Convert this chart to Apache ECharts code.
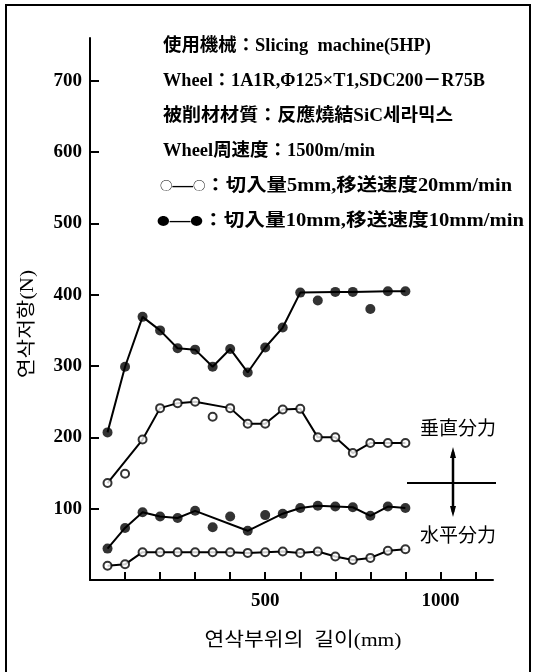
<!DOCTYPE html>
<html><head><meta charset="utf-8">
<script src="https://cdn.jsdelivr.net/npm/echarts@6/dist/echarts.min.js"></script>
<style>html,body{margin:0;padding:0;background:#fff}#c{width:539px;height:672px}</style>
</head><body><div id="c"></div>
<script>
// ---- data ----
const lengths = [50,100,150,200,250,300,350,400,450,500,550,600,650,700,750,800,850,900];
const vertFilled  = [207,299,369,350,325,323,299,324,291,326,354,403,392,404,404,380,405,405];
const vertOpen    = [136,149,197,241,248,250,229,241,219,219,239,240,200,200,178,192,192,192];
const horizFilled = [44,73,95,89,87,97,74,89,69,91,93,101,104,103,102,90,103,101];
const horizOpen   = [20,22,39,39,39,39,39,39,38,39,40,38,40,33,28,31,41,43];
// points that the drawn trend line skips (indices into lengths)
const vertFilledOffLine = [12,15];
const vertOpenOffLine = [1,6];
const horizFilledOffLine = [6,7,9];
const horizOpenOffLine = [];
const yTickValues = [0,100,200,300,400,500,600,700];
const yLabelValues = [100,200,300,400,500,600,700];
const xTickValues = [100,200,300,400,500,600,700,800,900,1000,1100];
const xLabelValues = [500,1000];
const infoLines = [
  ['', '使用機械：Slicing  machine(5HP)'],
  ['', 'Wheel：1A1R,Φ125×T1,SDC200－R75B'],
  ['', '被削材材質：反應燒結SiC세라믹스'],
  ['', 'Wheel周速度：1500m/min'],
  ['○', '：切入量5mm,移送速度20mm/min'],
  ['●', '：切入量10mm,移送速度10mm/min']
];
const yAxisTitle = '연삭저항(N)';
const xAxisTitle = '연삭부위의  길이(mm)';
const forceLabels = ['垂直分力','水平分力'];

// ---- layout ----
const serif = '"Liberation Serif", "Noto Sans CJK JP"';
const infoFont = 'bold 18px ' + serif;
const symFont = '11px "Noto Sans CJK JP"';
const dashFont = 'bold 18px "Liberation Serif"';
const infoX = [163,163,163,163,160,157];
const infoY = [46,81,116,151,186,221];
const infoW = [268,322,290,212,352,367];
const ctx = document.createElement('canvas').getContext('2d');
function measure(font, t){ ctx.font = font; return ctx.measureText(t).width; }

function allPts(v){ return lengths.map((x,i)=>[x, v[i]]); }
function linePts(v, off){ return lengths.map((x,i)=>[x, v[i]]).filter((p,i)=>off.indexOf(i) < 0); }

const lineStyle = {color:'#000', width:2};
function lineSeries(v, off){
  return {type:'line', data: linePts(v, off), symbol:'none', lineStyle, z:2, silent:true, animation:false};
}
function filledSeries(v){
  return {type:'scatter', data: allPts(v), symbol:'circle', symbolSize:10, itemStyle:{color:'#000'}, z:4, animation:false};
}
function openSeries(v){
  return {type:'scatter', data: allPts(v), symbol:'circle', symbolSize:8, itemStyle:{color:'#fff', borderColor:'#000', borderWidth:2}, z:4, animation:false};
}

const graphics = [];
infoLines.forEach((pair,i)=>{
  const [sym, t] = pair;
  let w = measure(infoFont, t);
  let text = '{t|' + t + '}';
  if (sym) {
    w += 2 * measure(symFont, sym) + measure(dashFont, '—');
    text = '{s|' + sym + '}{d|—}{s|' + sym + '}' + text;
  }
  graphics.push({type:'text', x: infoX[i], y: infoY[i], scaleX: infoW[i]/w,
    style:{text, fill:'#000', align:'left', verticalAlign:'middle',
      rich:{s:{font:symFont, fill:'#000'}, d:{font:dashFont, fill:'#000'}, t:{font:infoFont, fill:'#000'}}}});
});
const krFont = '19px "Liberation Serif", "Noto Sans CJK KR"';
graphics.push({type:'text', x:28, y:324, rotation: Math.PI/2, scaleX: 108/measure(krFont, yAxisTitle),
  style:{text:yAxisTitle, font:krFont, fill:'#000', align:'center', verticalAlign:'middle'}});
graphics.push({type:'text', x:303, y:641, scaleX: 197/measure(krFont, xAxisTitle),
  style:{text:xAxisTitle, font:krFont, fill:'#000', align:'center', verticalAlign:'middle'}});
graphics.push({type:'text', x:420, y:428, style:{text:forceLabels[0], font:'19px "Noto Sans CJK JP"', fill:'#000', align:'left', verticalAlign:'middle'}});
graphics.push({type:'text', x:420, y:535, style:{text:forceLabels[1], font:'19px "Noto Sans CJK JP"', fill:'#000', align:'left', verticalAlign:'middle'}});
// cross with double arrow
graphics.push({type:'line', shape:{x1:407,y1:483,x2:496,y2:483}, style:{stroke:'#000', lineWidth:2}});
graphics.push({type:'line', shape:{x1:453,y1:452,x2:453,y2:512}, style:{stroke:'#000', lineWidth:2.5}});
graphics.push({type:'polygon', shape:{points:[[453,447],[450,458],[456,458]]}, style:{fill:'#000'}});
graphics.push({type:'polygon', shape:{points:[[453,517],[450,506],[456,506]]}, style:{fill:'#000'}});
// frame
graphics.push({type:'polyline', shape:{points:[[6,672],[6,5],[530,5],[530,672]]}, style:{stroke:'#000', lineWidth:2, fill:null}});

const tickFont = {fontSize:19, fontWeight:'bold', color:'#000', fontFamily:'"Liberation Serif"', formatter: v => String(v)};
const chart = echarts.init(document.getElementById('c'), null, {renderer:'canvas'});
chart.setOption({
  animation:false,
  backgroundColor:'#fff',
  textStyle:{fontFamily: serif},
  grid:{left:90, right:46, top:38, bottom:92, containLabel:false},
  xAxis:{type:'value', min:0, max:1150, interval:100,
    axisLine:{show:true, lineStyle:{color:'#000', width:2}},
    axisTick:{show:true, inside:true, length:8, lineStyle:{color:'#000', width:2}, customValues:xTickValues},
    axisLabel:Object.assign({show:true, margin:12, customValues:xLabelValues}, tickFont),
    splitLine:{show:false}},
  yAxis:{type:'value', min:0, max:760, interval:100,
    axisLine:{show:true, lineStyle:{color:'#000', width:2}},
    axisTick:{show:true, inside:true, length:9, lineStyle:{color:'#000', width:2}, customValues:yTickValues},
    axisLabel:Object.assign({show:true, margin:8, customValues:yLabelValues}, tickFont),
    splitLine:{show:false}},
  series:[
    lineSeries(vertFilled, vertFilledOffLine),
    lineSeries(vertOpen, vertOpenOffLine),
    lineSeries(horizFilled, horizFilledOffLine),
    lineSeries(horizOpen, horizOpenOffLine),
    filledSeries(vertFilled),
    openSeries(vertOpen),
    filledSeries(horizFilled),
    openSeries(horizOpen)
  ],
  graphic: graphics
});
</script></body></html>
